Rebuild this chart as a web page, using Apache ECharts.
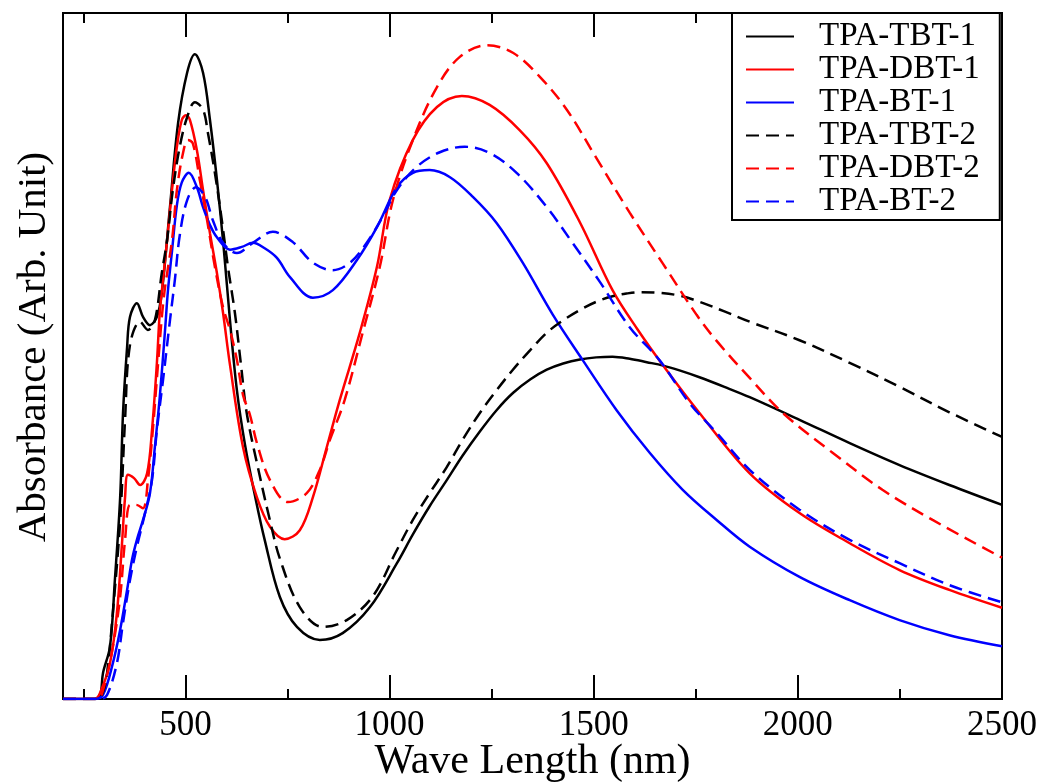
<!DOCTYPE html>
<html><head><meta charset="utf-8">
<script src="https://cdn.jsdelivr.net/npm/echarts@6/dist/echarts.min.js"></script>
<style>html,body{margin:0;padding:0;background:#fff}#c{width:1049px;height:782px}</style>
</head><body><div id="c"></div>
<script>
const seriesNames = ['TPA-TBT-1','TPA-DBT-1','TPA-BT-1','TPA-TBT-2','TPA-DBT-2','TPA-BT-2'];
const majorTicks = [500,1000,1500,2000,2500];
const minorTicks = [250,750,1250,1750,2250];

const tbt1 = [[200,0],[278,0],[291,0.5],[298,3.8],[315,7.6],[327,17.3],[340,29.4],[347,41.7],[357,51.3],[364,55.7],[381,57.7],[396,55.7],[413,54.5],[430,55.7],[442,59.2],[462,71.7],[482,84.0],[504,91.3],[523,94.0],[543,91.3],[560,84.4],[577,75.7],[594,65.5],[609,55.2],[626,45.0],[646,37.0],[670,29.7],[694,23.2],[731,14.9],[773,10.5],[829,8.6],[885,9.6],[952,13.4],[1018,19.8],[1057,24.0],[1098,28.1],[1140,31.9],[1179,35.5],[1221,39.0],[1262,42.1],[1302,44.6],[1345,46.6],[1385,48.0],[1425,48.9],[1466,49.5],[1506,49.8],[1546,49.9],[1588,49.6],[1630,49.1],[1670,48.6],[1710,47.9],[1759,46.9],[1820,45.5],[1882,44.0],[2004,40.7],[2127,37.3],[2249,34.1],[2371,31.2],[2500,28.3]];

const dbt1 = [[200,0],[278,0],[291,0.9],[315,5.2],[332,12.5],[344,22.2],[352,29.4],[359,32.7],[374,32.2],[389,31.2],[406,32.9],[418,39.2],[430,49.0],[437,56.3],[445,61.1],[455,66.9],[467,74.2],[479,80.5],[491,84.4],[501,85.1],[511,84.4],[528,80.0],[543,74.2],[560,67.9],[577,62.1],[592,56.3],[609,48.7],[641,36.7],[675,29.4],[707,25.1],[743,23.3],[780,24.6],[812,29.4],[846,36.7],[878,43.6],[927,53.4],[969,63.0],[1000,72.7],[1057,81.5],[1116,86.3],[1177,87.9],[1245,86.6],[1319,82.9],[1385,78.1],[1466,69.5],[1546,59.6],[1607,53.9],[1669,48.7],[1759,41.7],[1882,32.9],[2004,27.1],[2127,22.7],[2249,18.8],[2371,15.9],[2500,13.3]];

const bt1 = [[200,0],[278,0],[298,0.6],[322,5.2],[340,10.1],[357,15.9],[369,20.3],[381,23.2],[396,26.1],[413,30.0],[425,36.7],[437,44.0],[450,53.8],[457,59.5],[467,65.3],[479,72.0],[491,75.3],[508,76.7],[528,74.6],[543,71.7],[560,69.1],[577,67.3],[609,65.5],[638,65.9],[665,66.5],[694,65.7],[724,64.3],[756,61.5],[812,58.5],[861,59.6],[920,64.0],[969,68.8],[1018,74.6],[1057,76.7],[1098,77.1],[1147,76.1],[1204,73.2],[1262,69.4],[1326,63.6],[1400,56.0],[1473,49.4],[1556,42.1],[1637,35.9],[1718,30.5],[1801,26.1],[1882,22.2],[2004,17.8],[2127,14.4],[2249,11.5],[2371,9.3],[2500,7.7]];

const tbt2 = [[200,0],[285,0],[298,1.0],[308,3.8],[322,12.5],[340,26.0],[352,40.7],[364,51.6],[389,55.0],[408,53.8],[425,55.2],[442,62.1],[455,66.9],[469,74.2],[486,80.5],[504,84.8],[523,87.0],[543,85.9],[555,82.5],[572,76.7],[589,69.8],[604,63.0],[621,56.3],[636,48.7],[650,41.7],[675,34.4],[707,26.0],[731,20.5],[780,13.4],[836,10.5],[895,11.5],[959,15.0],[1016,21.5],[1057,26.1],[1098,30.0],[1140,33.8],[1179,37.8],[1221,41.7],[1262,45.0],[1302,48.0],[1345,50.9],[1385,53.4],[1425,55.2],[1466,56.7],[1506,57.9],[1546,58.7],[1580,59.1],[1612,59.3],[1660,59.2],[1710,58.8],[1759,57.9],[1820,56.5],[1882,55.0],[2004,52.3],[2127,49.0],[2249,45.5],[2371,41.8],[2500,38.2]];

const dbt2 = [[200,0],[285,0],[298,1.3],[322,7.6],[340,14.9],[352,23.2],[364,28.3],[379,28.3],[396,27.8],[408,31.9],[420,39.2],[433,49.0],[447,58.6],[467,66.9],[479,74.2],[494,79.6],[506,81.5],[518,81.0],[535,75.7],[553,69.8],[572,63.0],[592,57.1],[609,53.8],[626,49.4],[641,44.3],[658,41.4],[675,37.3],[707,31.9],[751,28.7],[797,30.0],[829,33.4],[854,37.8],[890,43.6],[934,53.4],[976,63.0],[1008,72.7],[1057,81.5],[1116,89.2],[1172,93.6],[1238,95.3],[1302,94.2],[1368,90.7],[1434,85.9],[1507,78.8],[1588,70.9],[1669,63.5],[1752,56.0],[1801,52.2],[1882,46.8],[1963,41.7],[2085,35.9],[2207,30.5],[2330,26.1],[2500,20.6]];

const bt2 = [[200,0],[291,0],[308,0.6],[332,5.2],[347,11.1],[364,17.3],[381,22.2],[401,27.1],[418,31.9],[430,39.2],[445,46.5],[462,55.2],[474,61.1],[486,67.6],[504,72.7],[526,74.6],[548,73.2],[567,69.8],[592,66.5],[626,65.0],[665,66.5],[714,68.1],[763,66.6],[812,63.6],[861,62.5],[903,63.6],[944,66.5],[983,70.3],[1018,74.2],[1067,77.6],[1123,79.7],[1184,80.5],[1245,79.6],[1311,76.7],[1385,71.7],[1448,66.5],[1515,60.8],[1588,54.2],[1661,49.4],[1735,43.1],[1801,38.8],[1882,33.4],[2004,27.6],[2127,23.2],[2249,19.8],[2371,16.6],[2500,14.1]];

const seriesData = [tbt1, dbt1, bt1, tbt2, dbt2, bt2];
const seriesColors = ['#000000','#ff0000','#0000ff','#000000','#ff0000','#0000ff'];
const seriesDashed = [false,false,false,true,true,true];

const FONT = '"Liberation Serif", "Times New Roman", serif';
const chart = echarts.init(document.getElementById('c'), null, {renderer:'canvas'});

function xAx(pos, ticks, len, showLabel){
  return {
    type:'value', min:200, max:2500, position:pos, gridIndex:0,
    splitLine:{show:false}, axisLine:{show:false},
    axisTick:{show:true, inside:true, length:len, customValues:ticks, lineStyle:{color:'#000', width:2}},
    axisLabel:{show:showLabel, customValues:ticks, formatter:(v)=>String(v),
      fontFamily:FONT, fontSize:35, color:'#000', margin:9}
  };
}
const xMain = xAx('bottom', majorTicks, 24, true);
xMain.name = 'Wave Length (nm)';
xMain.nameLocation = 'middle';
xMain.nameGap = 42;
xMain.nameMoveOverlap = false;
xMain.nameTextStyle = {fontFamily:FONT, fontSize:42, color:'#000'};

const option = {
  animation:false,
  backgroundColor:'#fff',
  grid:{left:63, right:47, top:13, bottom:83, outerBoundsMode:'none', containLabel:false,
    show:true, borderColor:'#000', borderWidth:2, backgroundColor:'transparent'},
  xAxis:[xMain, xAx('bottom', minorTicks, 10, false), xAx('top', majorTicks, 24, false), xAx('top', minorTicks, 10, false)],
  yAxis:{type:'value', min:0, max:100, axisLine:{show:false}, axisTick:{show:false}, axisLabel:{show:false}, splitLine:{show:false},
    name:'Absorbance (Arb. Unit)', nameLocation:'middle', nameGap:8, nameMoveOverlap:false,
    nameTextStyle:{fontFamily:FONT, fontSize:41, color:'#000', padding:[0,0,0,18]}},
  legend:{
    data:seriesNames, orient:'vertical', left:732, top:13,
    padding:[7,20,2,13], itemGap:0, itemWidth:48, itemHeight:14,
    borderColor:'#000', borderWidth:2, backgroundColor:'#fff',
    itemStyle:{opacity:0},
    textStyle:{fontFamily:FONT, fontSize:33, color:'#000', padding:[0,0,0,20]}
  },
  series: seriesNames.map((n,i)=>({
    name:n, type:'line', xAxisIndex:0, yAxisIndex:0, data:seriesData[i],
    symbol:'none', smooth:0.35,
    lineStyle:{color:seriesColors[i], width:2.5, type: seriesDashed[i] ? [13,7] : 'solid'},
    itemStyle:{color:seriesColors[i]}
  }))
};
chart.setOption(option);
</script>
</body></html>
